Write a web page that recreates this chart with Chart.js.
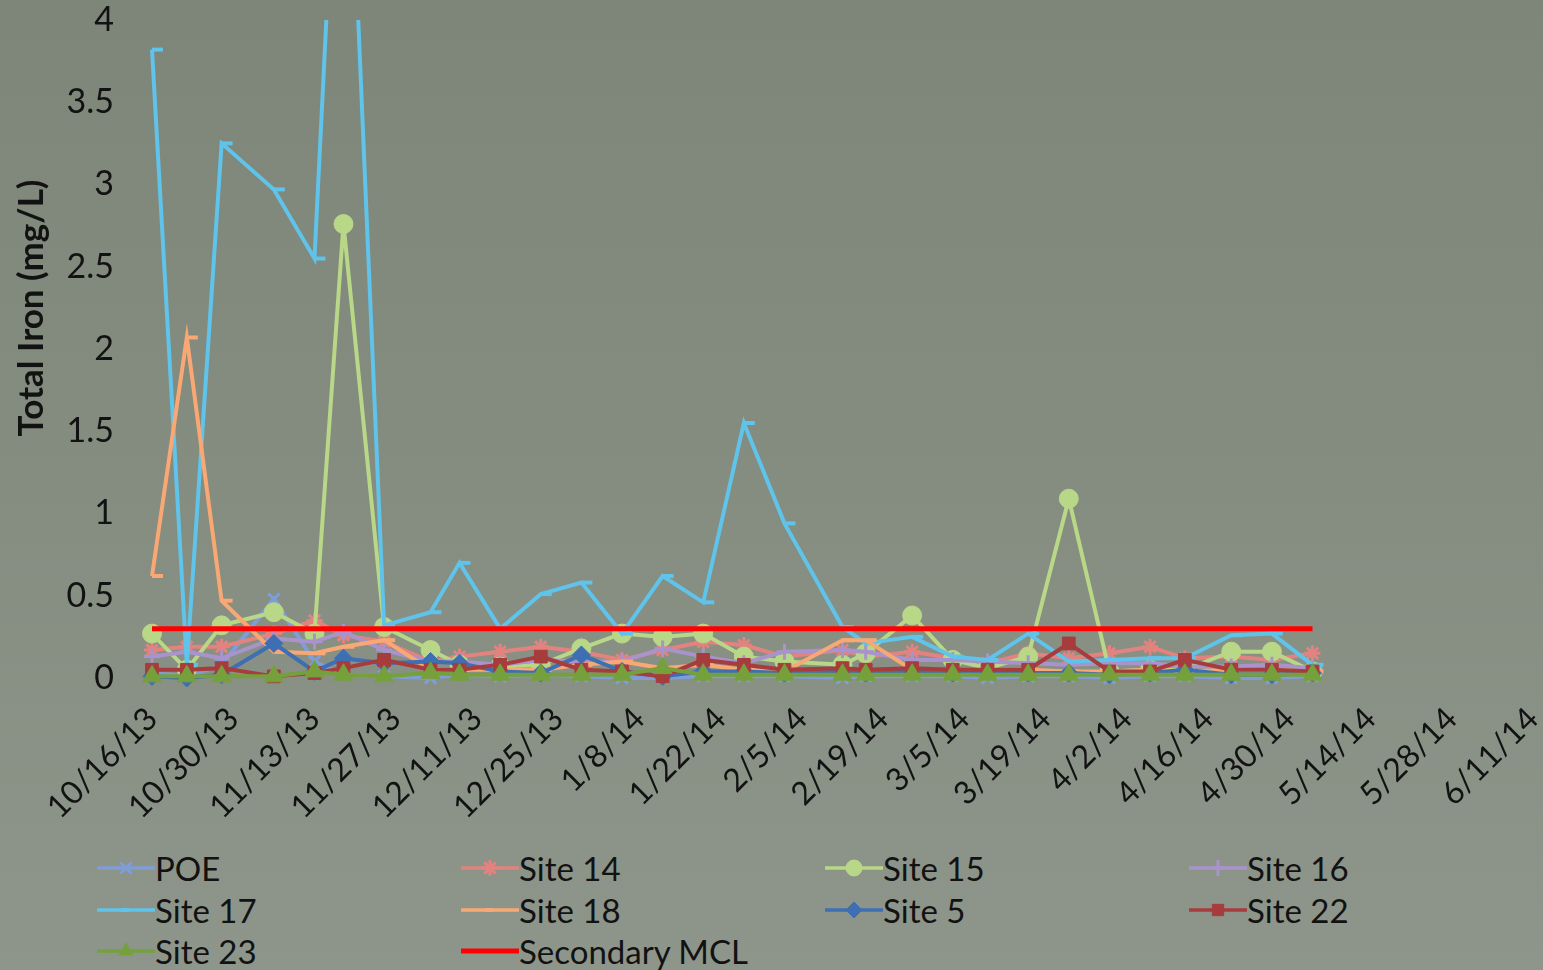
<!DOCTYPE html>
<html>
<head>
<meta charset="utf-8">
<script src="https://cdn.jsdelivr.net/npm/chart.js@4.4.1/dist/chart.umd.min.js"></script>
<style>
html,body{margin:0;padding:0;width:1543px;height:970px;overflow:hidden;}
body{background:linear-gradient(180deg,#7e8579 0%,#858c80 50%,#8e968b 100%);font-family:Lato,"Open Sans",sans-serif;}
#wrap{position:absolute;left:0;top:0;width:1543px;height:845px;}
#legend{position:absolute;left:0;top:846px;width:1543px;height:124px;}
.item{position:absolute;display:flex;align-items:center;height:40px;font-size:33px;color:#121212;white-space:nowrap;}
.item canvas{width:58px;height:30px;display:block;}
</style>
</head>
<body>
<div id="wrap"><canvas id="c"></canvas></div>
<div id="legend"></div>
<script>
// ---- data ----
const axisStart = '10/16/13';
const axisEnd = '6/11/14';
const tickStepDays = 14;
const yTicks = [0, 0.5, 1, 1.5, 2, 2.5, 3, 3.5, 4];
const yTitle = 'Total Iron (mg/L)';

const sampleDates = ['10/16/13','10/22/13','10/28/13','11/6/13','11/13/13','11/18/13','11/25/13','12/3/13','12/8/13','12/15/13',
  '12/22/13','12/29/13','1/5/14','1/12/14','1/19/14','1/26/14','2/2/14','2/12/14','2/16/14','2/24/14',
  '3/3/14','3/9/14','3/16/14','3/23/14','3/30/14','4/6/14','4/12/14','4/20/14','4/27/14','5/4/14'];

const poe    = [0.03,0.01,0.08,0.48,0.10,0.02,0.01,0.00,0.02,0.01,0.02,0.01,0.00,0.00,0.01,0.01,0.01,0.00,0.01,0.01,0.01,0.00,0.01,0.01,0.00,0.01,0.01,0.00,0.00,0.01];
const site14 = [0.17,0.19,0.19,0.27,0.35,0.26,0.22,0.10,0.13,0.16,0.19,0.16,0.11,0.17,0.22,0.20,0.13,0.17,0.13,0.16,0.12,0.09,0.15,0.12,0.15,0.19,0.12,0.13,0.11,0.15];
const site15 = [0.27,0.05,0.32,0.40,0.27,2.76,0.31,0.17,0.08,0.07,0.08,0.18,0.27,0.25,0.27,0.13,0.10,0.08,0.15,0.38,0.11,0.06,0.13,1.09,0.04,0.05,0.05,0.16,0.16,0.04];
const site16 = [0.13,0.16,0.12,0.24,0.22,0.28,0.17,0.10,0.10,0.08,0.11,0.10,0.10,0.18,0.13,0.09,0.16,0.17,0.16,0.11,0.11,0.10,0.09,0.08,0.09,0.09,0.07,0.07,0.08,0.06];
const site17 = [3.82,0.08,3.25,2.97,2.55,6.10,0.32,0.40,0.70,0.30,0.51,0.58,0.27,0.62,0.46,1.55,0.94,0.31,0.21,0.25,0.13,0.11,0.27,0.10,0.11,0.12,0.12,0.26,0.27,0.08];
const site18 = [0.62,2.07,0.47,0.16,0.15,0.19,0.23,0.05,0.05,0.05,0.05,0.08,0.10,0.06,0.08,0.05,0.04,0.23,0.23,0.05,0.04,0.05,0.05,0.04,0.04,0.05,0.04,0.05,0.05,0.04];
const site5  = [0.01,0.00,0.02,0.21,0.04,0.12,0.09,0.10,0.09,0.04,0.03,0.14,0.04,0.01,0.04,0.04,0.03,0.04,0.03,0.04,0.03,0.04,0.03,0.03,0.02,0.03,0.05,0.02,0.02,0.03];
const site22 = [0.05,0.05,0.06,0.01,0.03,0.06,0.11,0.05,0.05,0.08,0.13,0.05,0.04,0.01,0.11,0.08,0.05,0.06,0.05,0.06,0.05,0.05,0.05,0.21,0.04,0.04,0.11,0.05,0.05,0.04];
const site23 = [0.01,0.01,0.01,0.01,0.04,0.02,0.01,0.03,0.02,0.02,0.02,0.02,0.02,0.06,0.02,0.02,0.02,0.02,0.02,0.02,0.02,0.02,0.02,0.02,0.02,0.02,0.02,0.02,0.02,0.02];
const mclValue = 0.3;
const mclDates = ['10/16/13','5/4/14'];

// ---- helpers ----
function parseDate(s){const [m,d,y]=s.split('/').map(Number);return Date.UTC(2000+y,m-1,d);}
const DAY = 86400000;
const t0 = parseDate(axisStart);
const dayOf = s => Math.round((parseDate(s)-t0)/DAY);
function fmtDay(v){const dt=new Date(t0+v*DAY);return (dt.getUTCMonth()+1)+'/'+dt.getUTCDate()+'/'+String(dt.getUTCFullYear()).slice(2);}
const pts = vals => sampleDates.map((d,i)=>({x:dayOf(d),y:vals[i]}));

const series = [
  {label:'POE',     vals:poe,    color:'#7f9dd8', style:'crossRot', r:8,  bw:3},
  {label:'Site 14', vals:site14, color:'#e2837f', style:'star',     r:8,  bw:3},
  {label:'Site 15', vals:site15, color:'#b8d787', style:'circle',   r:9.5,bw:1},
  {label:'Site 16', vals:site16, color:'#a993cc', style:'cross',    r:8,  bw:3},
  {label:'Site 17', vals:site17, color:'#5fc3ea', style:'dash',     r:11, bw:4},
  {label:'Site 18', vals:site18, color:'#f9a874', style:'dash',     r:11, bw:4},
  {label:'Site 5',  vals:site5,  color:'#3e6fb3', style:'rectRot',  r:9,  bw:1},
  {label:'Site 22', vals:site22, color:'#a63c3c', style:'rect',     r:9,  bw:1},
  {label:'Site 23', vals:site23, color:'#76a03c', style:'triangle', r:11, bw:1}
];
const clipBox = {left:15, top:0, right:15, bottom:15};

const datasets = series.map((s,i)=>({
  label:s.label, data:pts(s.vals),
  borderColor:s.color, backgroundColor:s.color,
  pointBackgroundColor:s.color, pointBorderColor:s.color,
  borderWidth:4, pointStyle:s.style, pointRadius:s.r, pointBorderWidth:s.bw,
  pointHoverRadius:s.r, tension:0, order:20-i, clip:clipBox
}));
datasets.push({
  label:'Secondary MCL', data:mclDates.map(d=>({x:dayOf(d),y:mclValue})),
  borderColor:'#ff0000', backgroundColor:'#ff0000', borderWidth:5, pointRadius:0, tension:0, order:0, clip:clipBox
});

const yTitlePlugin = {
  id:'yTitle',
  afterDraw(chart){
    const {ctx, chartArea} = chart;
    ctx.save();
    ctx.translate(32, chartArea.top + (chartArea.bottom - chartArea.top) * 0.4377);
    ctx.rotate(-Math.PI/2);
    ctx.font = 'bold 35px Lato';
    ctx.fillStyle = '#121212';
    ctx.textAlign = 'center';
    ctx.textBaseline = 'middle';
    ctx.fillText(yTitle, 0, 0);
    ctx.restore();
  }
};

new Chart(document.getElementById('c'), {
  type:'line',
  data:{datasets},
  plugins:[yTitlePlugin],
  options:{
    responsive:true, maintainAspectRatio:false, animation:false,
    layout:{autoPadding:false, padding:0},
    plugins:{legend:{display:false}, tooltip:{enabled:false}},
    scales:{
      x:{type:'linear', min:0, max:dayOf(axisEnd),
         grid:{display:false}, border:{display:false},
         afterFit:s=>{s.height=167; s.paddingLeft=0; s.paddingRight=10;},
         ticks:{stepSize:tickStepDays, maxTicksLimit:30, autoSkip:false, minRotation:45, maxRotation:45,
                padding:14, color:'#121212', font:{family:'Lato', size:32}, callback:v=>fmtDay(v)}},
      y:{min:yTicks[0], max:yTicks[yTicks.length-1],
         grid:{display:false}, border:{display:false},
         afterFit:s=>{s.width=152; s.paddingTop=20; s.paddingBottom=0;},
         ticks:{stepSize:0.5, padding:30, color:'#121212', font:{family:'Lato', size:34}, callback:v=>String(v)}}
    }
  }
});

// ---- legend ----
const legend = document.getElementById('legend');
const legendItems = series.map(s=>({label:s.label,color:s.color,style:s.style,r:Math.min(s.r,8),bw:s.bw,lw:3.5}));
legendItems.push({label:'Secondary MCL',color:'#ff0000',style:false,r:0,bw:0,lw:5});
legendItems.forEach((it,i)=>{
  const col=i%4,row=Math.floor(i/4);
  const div=document.createElement('div');
  div.className='item';
  div.style.left=(97+col*364)+'px';
  div.style.top=(2+row*41.5)+'px';
  const cv=document.createElement('canvas');
  cv.width=58;cv.height=30;
  const ctx=cv.getContext('2d');
  ctx.strokeStyle=it.color;ctx.fillStyle=it.color;
  ctx.lineWidth=it.lw;
  ctx.beginPath();ctx.moveTo(0,15);ctx.lineTo(58,15);ctx.stroke();
  if(it.style && Chart.helpers && Chart.helpers.drawPoint){
    ctx.lineWidth=it.bw;
    Chart.helpers.drawPoint(ctx,{pointStyle:it.style,radius:it.r,borderWidth:it.bw,rotation:0},it.style==='dash'?24:29,15);
  }
  const sp=document.createElement('span');
  sp.textContent=it.label;
  div.appendChild(cv);div.appendChild(sp);
  legend.appendChild(div);
});
</script>
</body>
</html>
